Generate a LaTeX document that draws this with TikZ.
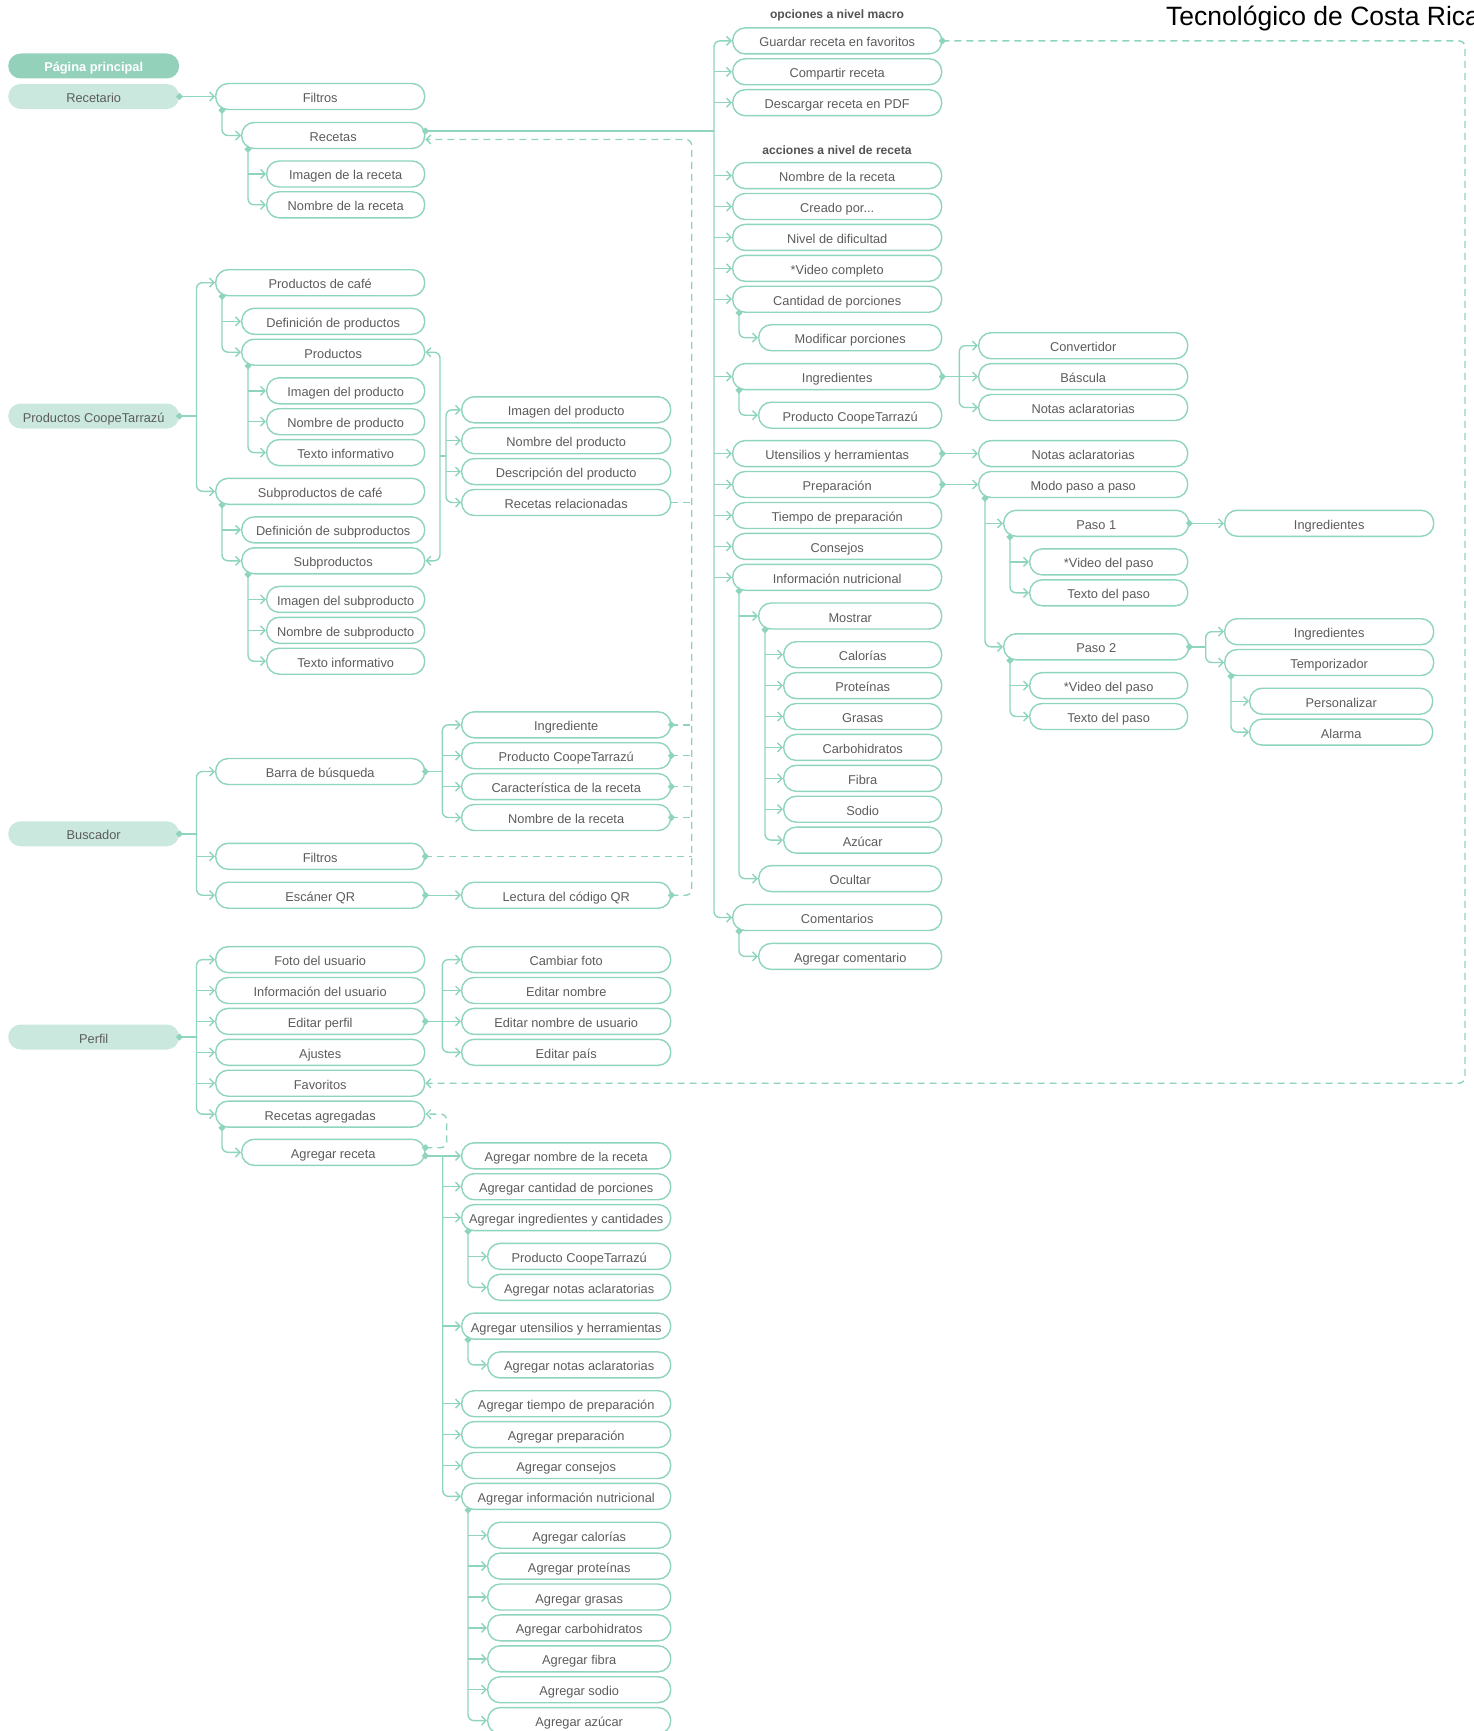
\documentclass[tikz,border=0pt]{standalone}
\usepackage{fontspec}
\setmainfont{Liberation Sans}
\usetikzlibrary{arrows.meta,calc}
\definecolor{lc}{HTML}{8FD4BC}
\definecolor{tc}{HTML}{5C5C5C}
\definecolor{rootA}{HTML}{93D1BB}
\definecolor{rootB}{HTML}{CAE8DD}
\newcommand\dmd[1]{\fill[lc] (#1) +(-3.6,0) -- +(0,-3.6) -- +(3.6,0) -- +(0,3.6) -- cycle;}
\begin{document}
\begin{tikzpicture}[x=1pt,y=-1pt,
  box/.style={draw=lc, line width=1.4pt, rounded corners=12.5pt, minimum height=26pt, inner sep=0pt, text height=12pt, text depth=0pt, font=\fontsize{12.8}{14}\selectfont, text=tc, anchor=west, fill=white},
  wb/.style={box, minimum width=209pt},
  wc/.style={box, minimum width=183pt},
  wd/.style={box, minimum width=158pt},
  root/.style={rounded corners=12.5pt, minimum height=25pt, minimum width=171pt, inner sep=0pt, text height=12pt, text depth=0pt, font=\fontsize{12.8}{14}\selectfont, text=tc, fill=rootB, anchor=west},
  ln/.style={draw=lc, line width=1.4pt, rounded corners=6pt},
  ar/.style={ln, -{Straight Barb[length=4.5pt,width=9pt]}},
  dl/.style={ln, dash pattern=on 7pt off 5pt},
  dar/.style={dl, -{Straight Barb[length=4.5pt,width=9pt]}},
  lbl/.style={font=\bfseries\fontsize{12.1}{14}\selectfont, text=tc!90!black, inner sep=0pt}
]
\useasboundingbox (0,0) rectangle (1473,1731);

% title
\node[font=\fontsize{26.5}{30}\selectfont, anchor=base west, text=black, inner sep=0pt] (title) at (1166,26) {Tecnológico de Costa Rica};

% roots
\node[root, fill=rootA, text=white, font=\bfseries\fontsize{12.8}{14}\selectfont] (pag) at (8,66) {Página principal};
\node[root] (rct) at (8,96.5) {Recetario};
\node[root] (pct) at (8,416) {Productos CoopeTarrazú};
\node[root] (bus) at (8,833.8) {Buscador};
\node[root] (per) at (8,1037) {Perfil};

% Recetario
\node[wb] (filt) at (215,96.5) {Filtros};
\node[wc] (rcts) at (241,135.5) {Recetas};
\node[wd] (rimg) at (266,174) {Imagen de la receta};
\node[wd] (rnom) at (266,204.8) {Nombre de la receta};

% Productos
\node[wb] (pcaf) at (215,282.7) {Productos de café};
\node[wc] (pdef) at (241,321.3) {Definición de productos};
\node[wc] (prods) at (241,352.2) {Productos};
\node[wd] (pimg) at (266,390.8) {Imagen del producto};
\node[wd] (pnom) at (266,421.7) {Nombre de producto};
\node[wd] (ptxt) at (266,452.6) {Texto informativo};
\node[wb] (scaf) at (215,491.3) {Subproductos de café};
\node[wc] (sdef) at (241,529.9) {Definición de subproductos};
\node[wc] (sprods) at (241,560.8) {Subproductos};
\node[wd] (simg) at (266,599.4) {Imagen del subproducto};
\node[wd] (snom) at (266,630.3) {Nombre de subproducto};
\node[wd] (stxt) at (266,661.2) {Texto informativo};
\node[wb] (dimg) at (461,409.8) {Imagen del producto};
\node[wb] (dnom) at (461,440.7) {Nombre del producto};
\node[wb] (ddes) at (461,471.6) {Descripción del producto};
\node[wb] (drel) at (461,502.5) {Recetas relacionadas};

% Buscador
\node[wb] (barra) at (215,771.5) {Barra de búsqueda};
\node[wb] (bfil) at (215,856.3) {Filtros};
\node[wb] (qr) at (215,895.2) {Escáner QR};
\node[wb] (bing) at (461,724.8) {Ingrediente};
\node[wb] (bpro) at (461,755.7) {Producto CoopeTarrazú};
\node[wb] (bcar) at (461,786.6) {Característica de la receta};
\node[wb] (bnom) at (461,817.5) {Nombre de la receta};
\node[wb] (lqr) at (461,895.2) {Lectura del código QR};

% Perfil
\node[wb] (foto) at (215,959.6) {Foto del usuario};
\node[wb] (info) at (215,990.5) {Información del usuario};
\node[wb] (edit) at (215,1021.4) {Editar perfil};
\node[wb] (ajus) at (215,1052.3) {Ajustes};
\node[wb] (fav) at (215,1083.2) {Favoritos};
\node[wb] (ragr) at (215,1114.1) {Recetas agregadas};
\node[wc] (agr) at (241,1152.3) {Agregar receta};
\node[wb] (cfoto) at (461,959.6) {Cambiar foto};
\node[wb] (enom) at (461,990.5) {Editar nombre};
\node[wb] (eusr) at (461,1021.4) {Editar nombre de usuario};
\node[wb] (epais) at (461,1052.3) {Editar país};
\node[wb] (a1) at (461,1155.8) {Agregar nombre de la receta};
\node[wb] (a2) at (461,1186.7) {Agregar cantidad de porciones};
\node[wb] (a3) at (461,1217.6) {Agregar ingredientes y cantidades};
\node[wc] (a3a) at (487,1256.4) {Producto CoopeTarrazú};
\node[wc] (a3b) at (487,1287.3) {Agregar notas aclaratorias};
\node[wb] (a4) at (461,1326.1) {Agregar utensilios y herramientas};
\node[wc] (a4a) at (487,1364.9) {Agregar notas aclaratorias};
\node[wb] (a5) at (461,1403.7) {Agregar tiempo de preparación};
\node[wb] (a6) at (461,1434.6) {Agregar preparación};
\node[wb] (a7) at (461,1465.5) {Agregar consejos};
\node[wb] (a8) at (461,1496.4) {Agregar información nutricional};
\node[wc] (n1) at (487,1535.2) {Agregar calorías};
\node[wc] (n2) at (487,1566.1) {Agregar proteínas};
\node[wc] (n3) at (487,1597.0) {Agregar grasas};
\node[wc] (n4) at (487,1627.9) {Agregar carbohidratos};
\node[wc] (n5) at (487,1658.8) {Agregar fibra};
\node[wc] (n6) at (487,1689.7) {Agregar sodio};
\node[wc] (n7) at (487,1720.6) {Agregar azúcar};

% Right part
\node[lbl] (lmac) at (837,15.5) {opciones a nivel macro};
\node[wb] (g1) at (732,40.9) {Guardar receta en favoritos};
\node[wb] (g2) at (732,71.8) {Compartir receta};
\node[wb] (g3) at (732,102.7) {Descargar receta en PDF};
\node[lbl] (lrec) at (837,150.2) {acciones a nivel de receta};
\node[wb] (g4) at (732,175.6) {Nombre de la receta};
\node[wb] (g5) at (732,206.5) {Creado por...};
\node[wb] (g6) at (732,237.4) {Nivel de dificultad};
\node[wb] (g7) at (732,268.3) {*Video completo};
\node[wb] (g8) at (732,299.2) {Cantidad de porciones};
\node[wc] (g8a) at (758,337.7) {Modificar porciones};
\node[wb] (g9) at (732,376.6) {Ingredientes};
\node[wc] (g9a) at (758,415.2) {Producto CoopeTarrazú};
\node[wb] (g10) at (732,453.6) {Utensilios y herramientas};
\node[wb] (g11) at (732,484.5) {Preparación};
\node[wb] (g12) at (732,515.5) {Tiempo de preparación};
\node[wb] (g13) at (732,546.4) {Consejos};
\node[wb] (g14) at (732,577.3) {Información nutricional};
\node[wc] (mos) at (758,616) {Mostrar};
\node[wd] (m1) at (783,654.7) {Calorías};
\node[wd] (m2) at (783,685.6) {Proteínas};
\node[wd] (m3) at (783,716.5) {Grasas};
\node[wd] (m4) at (783,747.4) {Carbohidratos};
\node[wd] (m5) at (783,778.3) {Fibra};
\node[wd] (m6) at (783,809.2) {Sodio};
\node[wd] (m7) at (783,840.1) {Azúcar};
\node[wc] (ocu) at (758,878.6) {Ocultar};
\node[wb] (g15) at (732,917.5) {Comentarios};
\node[wc] (g15a) at (758,956.4) {Agregar comentario};

\node[wb] (conv) at (978,345.7) {Convertidor};
\node[wb] (basc) at (978,376.6) {Báscula};
\node[wb] (not1) at (978,407.5) {Notas aclaratorias};
\node[wb] (not2) at (978,453.6) {Notas aclaratorias};
\node[wb] (modo) at (978,484.5) {Modo paso a paso};
\node[wc, minimum width=185pt] (p1) at (1003,523.3) {Paso 1};
\node[wd] (p1v) at (1029,561.9) {*Video del paso};
\node[wd] (p1t) at (1029,592.8) {Texto del paso};
\node[wc, minimum width=185pt] (p2) at (1003,646.8) {Paso 2};
\node[wd] (p2v) at (1029,685.6) {*Video del paso};
\node[wd] (p2t) at (1029,716.5) {Texto del paso};
\node[wb] (ing1) at (1224,523.3) {Ingredientes};
\node[wb] (ing2) at (1224,631.7) {Ingredientes};
\node[wb] (temp) at (1224,662.5) {Temporizador};
\node[wc] (pers) at (1249,701.2) {Personalizar};
\node[wc] (alar) at (1249,732.1) {Alarma};

% ---------- connectors ----------
\coordinate (bx) at (196.5,0);
\coordinate (ex) at (442.3,0);
\coordinate (ex2) at (442.7,0);
\coordinate (gx) at (714,0);
\coordinate (dx) at (691.7,0);
\coordinate (dx2) at (446.7,0);
\coordinate (rx) at (1465,0);
\coordinate (jx) at (959.3,0);
\coordinate (kx) at (1205.7,0);

% Recetario
\draw[ar] (rct.east) -- (filt.west);
\coordinate (t1) at ($(filt.south west)+(7,0)$);
\draw[ar] (t1) |- (rcts.west);
\coordinate (t2) at ($(rcts.south west)+(7,0)$);
\draw[ar] (t2 |- rimg.west) -- (rimg.west);
\draw[ar] (t2) |- (rnom.west);
% Recetas -> acciones
\coordinate (rs) at ($(rcts.east)+(0,-4.5)$);
\draw[ln] (rs) -- (gx |- rs);
\draw[ar] (gx |- rs) |- (g1.west);
\draw[ar] (gx |- rs) |- (g15.west);
\foreach \n in {g2,g3,g4,g5,g6,g7,g8,g9,g10,g11,g12,g13,g14}
  \draw[ar] (gx |- \n.west) -- (\n.west);
% dashed return to Recetas
\coordinate (rd) at ($(rcts.east)+(0,4)$);
\draw[dar] (lqr.east) -| (dx |- rd) -- (rd);
\foreach \n in {drel,bing,bpro,bcar,bnom,bfil}
  \draw[dl] (\n.east) -- (dx |- \n.east);
% Guardar -> Favoritos
\draw[dar] (g1.east) -| (rx |- fav.east) -- (fav.east);

% Productos CoopeTarrazu
\draw[ln] (pct.east) -- (bx |- pct.east);
\draw[ar] (bx |- pct.east) |- (pcaf.west);
\draw[ar] (bx |- pct.east) |- (scaf.west);
\coordinate (t3) at ($(pcaf.south west)+(7,0)$);
\draw[ar] (t3 |- pdef.west) -- (pdef.west);
\draw[ar] (t3) |- (prods.west);
\coordinate (t4) at ($(prods.south west)+(7,0)$);
\draw[ar] (t4 |- pimg.west) -- (pimg.west);
\draw[ar] (t4 |- pnom.west) -- (pnom.west);
\draw[ar] (t4) |- (ptxt.west);
\coordinate (t5) at ($(scaf.south west)+(7,0)$);
\draw[ar] (t5 |- sdef.west) -- (sdef.west);
\draw[ar] (t5) |- (sprods.west);
\coordinate (t6) at ($(sprods.south west)+(7,0)$);
\draw[ar] (t6 |- simg.west) -- (simg.west);
\draw[ar] (t6 |- snom.west) -- (snom.west);
\draw[ar] (t6) |- (stxt.west);
% product details
\coordinate (px) at (440,456);
\coordinate (px2) at (446,456);
\draw[ar] (px) |- (prods.east);
\draw[ar] (px) |- (sprods.east);
\draw[ln] (px) -- (px2);
\draw[ar] (px2) |- (dimg.west);
\draw[ar] (px2) |- (drel.west);
\draw[ar] (px2 |- dnom.west) -- (dnom.west);
\draw[ar] (px2 |- ddes.west) -- (ddes.west);

% Buscador
\draw[ln] (bus.east) -- (bx |- bus.east);
\draw[ar] (bx |- bus.east) |- (barra.west);
\draw[ar] (bx |- bus.east) |- (qr.west);
\draw[ar] (bx |- bfil.west) -- (bfil.west);
\draw[ln] (barra.east) -- (ex |- barra.east);
\draw[ar] (ex |- barra.east) |- (bing.west);
\draw[ar] (ex |- barra.east) |- (bnom.west);
\draw[ar] (ex |- bpro.west) -- (bpro.west);
\draw[ar] (ex |- bcar.west) -- (bcar.west);
\draw[ar] (qr.east) -- (lqr.west);

% Perfil
\draw[ln] (per.east) -- (bx |- per.east);
\draw[ar] (bx |- per.east) |- (foto.west);
\draw[ar] (bx |- per.east) |- (ragr.west);
\foreach \n in {info,edit,ajus,fav}
  \draw[ar] (bx |- \n.west) -- (\n.west);
\draw[ar] (edit.east) -- (eusr.west);
\draw[ar] (ex |- edit.east) |- (cfoto.west);
\draw[ar] (ex |- edit.east) |- (epais.west);
\draw[ar] (ex |- enom.west) -- (enom.west);
\coordinate (t7) at ($(ragr.south west)+(7,0)$);
\draw[ar] (t7) |- (agr.west);
\coordinate (ad) at ($(agr.east)+(0,-4.6)$);
\draw[dar] (ad) -| (dx2 |- ragr.east) -- (ragr.east);
\coordinate (as) at ($(agr.east)+(0,3.5)$);
\draw[ar] (as) -- (a1.west);
\draw[ar] (ex2 |- a1.west) |- (a8.west);
\foreach \n in {a2,a3,a4,a5,a6,a7}
  \draw[ar] (ex2 |- \n.west) -- (\n.west);
\coordinate (t8) at ($(a3.south west)+(7,0)$);
\draw[ar] (t8 |- a3a.west) -- (a3a.west);
\draw[ar] (t8) |- (a3b.west);
\coordinate (t9) at ($(a4.south west)+(7,0)$);
\draw[ar] (t9) |- (a4a.west);
\coordinate (t10) at ($(a8.south west)+(7,0)$);
\foreach \n in {n1,n2,n3,n4,n5,n6}
  \draw[ar] (t10 |- \n.west) -- (\n.west);
\draw[ar] (t10) |- (n7.west);

% right side
\coordinate (t11) at ($(g8.south west)+(7,0)$);
\draw[ar] (t11) |- (g8a.west);
\coordinate (t12) at ($(g9.south west)+(7,0)$);
\draw[ar] (t12) |- (g9a.west);
\draw[ar] (g9.east) -- (basc.west);
\draw[ar] (jx |- g9.east) |- (conv.west);
\draw[ar] (jx |- g9.east) |- (not1.west);
\draw[ar] (g10.east) -- (not2.west);
\draw[ar] (g11.east) -- (modo.west);
\coordinate (t13) at ($(g14.south west)+(7,0)$);
\draw[ar] (t13 |- mos.west) -- (mos.west);
\draw[ar] (t13) |- (ocu.west);
\coordinate (t14) at ($(mos.south west)+(7,0)$);
\foreach \n in {m1,m2,m3,m4,m5,m6}
  \draw[ar] (t14 |- \n.west) -- (\n.west);
\draw[ar] (t14) |- (m7.west);
\coordinate (t15) at ($(g15.south west)+(7,0)$);
\draw[ar] (t15) |- (g15a.west);
\coordinate (t16) at ($(modo.south west)+(7,0)$);
\draw[ar] (t16 |- p1.west) -- (p1.west);
\draw[ar] (t16) |- (p2.west);
\coordinate (t17) at ($(p1.south west)+(7,0)$);
\draw[ar] (t17 |- p1v.west) -- (p1v.west);
\draw[ar] (t17) |- (p1t.west);
\draw[ar] (p1.east) -- (ing1.west);
\coordinate (t18) at ($(p2.south west)+(7,0)$);
\draw[ar] (t18 |- p2v.west) -- (p2v.west);
\draw[ar] (t18) |- (p2t.west);
\draw[ln] (p2.east) -- (kx |- p2.east);
\draw[ar] (kx |- p2.east) |- (ing2.west);
\draw[ar] (kx |- p2.east) |- (temp.west);
\coordinate (t19) at ($(temp.south west)+(7,0)$);
\draw[ar] (t19 |- pers.west) -- (pers.west);
\draw[ar] (t19) |- (alar.west);

% diamonds
\foreach \p in {rct.east,t1,t2,rs,lqr.east,bing.east,bpro.east,bcar.east,bnom.east,bfil.east,g1.east,
  pct.east,t3,t4,t5,t6,bus.east,barra.east,qr.east,per.east,edit.east,t7,ad,as,t8,t9,t10,
  t11,t12,g9.east,g10.east,g11.east,t13,t14,t15,t16,t17,p1.east,t18,p2.east,t19}
  {\dmd{\p}}
\end{tikzpicture}
\end{document}
